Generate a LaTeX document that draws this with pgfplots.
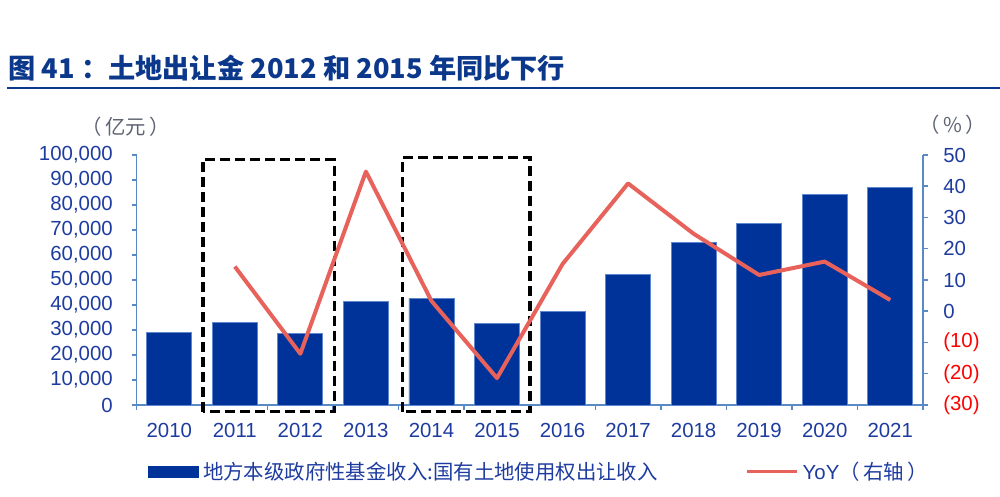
\documentclass[border=0pt]{standalone}
\usepackage{pgfplots}
\usepackage{pgfplotstable}
\pgfplotsset{compat=1.18}
\usepackage{fontspec}
\setmainfont{Liberation Sans}
\newfontfamily\cjk{Noto Sans CJK SC}
\definecolor{barblue}{RGB}{0,51,153}
\definecolor{baredge}{RGB}{95,135,205}
\definecolor{linered}{RGB}{232,98,92}
\definecolor{axisblue}{RGB}{90,138,198}
\definecolor{tickblue}{RGB}{30,60,160}
\definecolor{titleblue}{RGB}{12,56,140}
\definecolor{unitgray}{RGB}{95,100,115}

\pgfplotstableread{
x val
0 29110
1 33166
2 28517
3 41250
4 42606
5 32547
6 37457
7 52059
8 65096
9 72584
10 84142
11 87051
}\bars

\pgfplotstableread{
x yoy
1 14.3
2 -13.6
3 44.7
4 3.3
5 -21.4
6 15.1
7 40.9
8 24.8
9 11.6
10 15.9
11 3.6
}\yoy

\begin{document}
\begin{tikzpicture}
\useasboundingbox (0,0) rectangle (500pt,248.5pt);
\begin{scope}[yshift=248.5pt, x=0.5pt, y=-0.5pt]
  \node[anchor=west, inner sep=0pt, text=titleblue] at (8,68)
    {\cjk\bfseries\fontsize{13.6}{16}\selectfont 图 41 ：土地出让金 2012 和 2015 年同比下行};
  \draw[titleblue, line width=1pt] (7,88) -- (1000,88);
  \node[inner sep=0pt, text=unitgray] at (126,127) {\cjk\fontsize{10.2}{12}\selectfont （\,亿元\,）};
  \node[inner sep=0pt, text=unitgray] at (953,125) {\cjk\fontsize{10.2}{12}\selectfont （\,\%\,）};
\end{scope}
\pgfplotsset{common/.style={
  scale only axis, width=393.25pt, height=125pt,
  at={(68.25pt,46pt)}, anchor=south west,
  xmin=-0.5, xmax=11.5,
  axis line style={axisblue, line width=0.75pt, -},
  tick style={axisblue, line width=0.75pt},
  tick align=outside, major tick length=2.5pt, minor tick length=2.5pt,
  ticklabel style={font=\fontsize{10.2}{12}\selectfont, text=tickblue},
  /pgf/number format/assume math mode=true,
}}
\begin{axis}[common,
  axis x line*=bottom, axis y line*=left,
  ymin=0, ymax=100000, ytick={0,10000,...,100000},
  scaled y ticks=false,
  yticklabel style={/pgf/number format/fixed, /pgf/number format/1000 sep={,}, xshift=-5.85pt},
  xtick={0,...,11},
  xticklabels={2010,2011,2012,2013,2014,2015,2016,2017,2018,2019,2020,2021},
  major x tick style={draw=none},
  minor xtick={-0.5,0.5,...,11.5},
  xticklabel style={yshift=-3pt},
  clip=false,
  ybar, bar width=22.5pt,
]
\addplot[fill=barblue, draw=baredge, line width=0.4pt, bar shift=0pt] table[x=x,y=val]{\bars};
\draw[black, line width=1.6pt, dash pattern=on 5pt off 2.5pt]
  (axis cs:0.514,-2700) rectangle (axis cs:2.516,98300);
\draw[black, line width=1.6pt, dash pattern=on 5pt off 2.5pt]
  (axis cs:3.564,-2700) rectangle (axis cs:5.505,99100);
\end{axis}
\begin{axis}[common,
  axis y line*=right, axis x line=none,
  ymin=-30, ymax=50, ytick={-30,-20,...,50},
  yticklabels={\textcolor{red}{(30)},\textcolor{red}{(20)},\textcolor{red}{(10)},0,10,20,30,40,50},
  yticklabel style={anchor=west, xshift=4.1pt},
  legend style={at={(0.0146,-0.268)}, anchor=west, draw=none, fill=none,
    inner sep=0pt, font=\fontsize{10.2}{12}\selectfont, text=tickblue,
    /tikz/every even column/.append style={column sep=42pt}},
  legend columns=2, legend cell align=left,
]
\addlegendimage{legend image code/.code={\fill[barblue] (0pt,-2.75pt) rectangle (25pt,2.75pt);}}
\addlegendentry{\cjk 地方本级政府性基金收入:国有土地使用权出让收入}
\addplot[linered, line width=2pt, line join=round, no marks,
  legend image code/.code={\draw[linered, line width=1.5pt] (0pt,0pt) -- (25pt,0pt);}]
  table[x=x,y=yoy]{\yoy};
\addlegendentry{YoY{\cjk （\,右轴\,）}}
\end{axis}
\end{tikzpicture}
\end{document}
